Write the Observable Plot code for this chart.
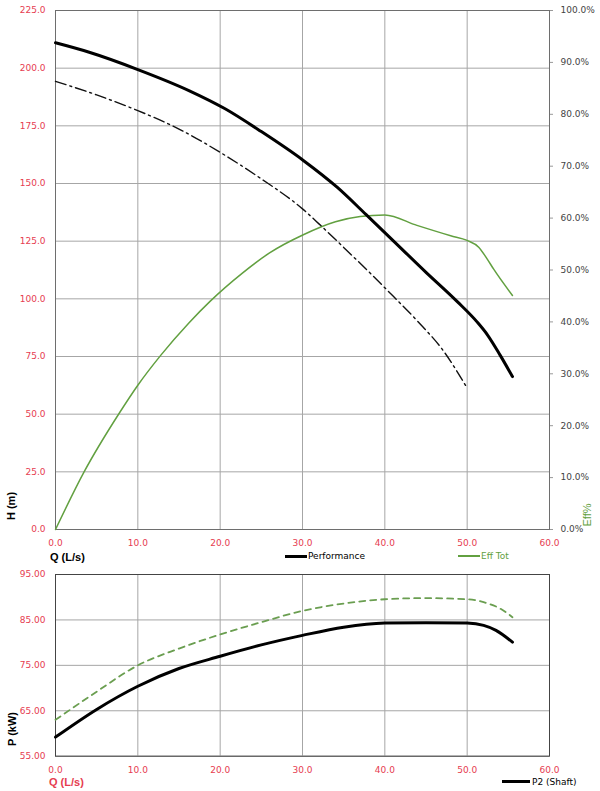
<!DOCTYPE html>
<html>
<head>
<meta charset="utf-8">
<script src="https://cdn.jsdelivr.net/npm/d3@7"></script>
<script src="https://cdn.jsdelivr.net/npm/@observablehq/plot@0.6"></script>
<style>
  html, body { margin: 0; padding: 0; background: #fff; }
  #wrap { position: relative; width: 600px; height: 791px; overflow: hidden; font-family: "DejaVu Sans", sans-serif; }
  .abs { position: absolute; white-space: nowrap; line-height: 1; }
  .lbl { font-family: "Liberation Sans", Arial, sans-serif; font-weight: bold; font-size: 11px; }
  .rot { transform: translate(-50%, -50%) rotate(-90deg); }
  .leg { font-size: 9px; transform: translateY(-50%); }
  .swatch { position: absolute; }
</style>
</head>
<body>
<div id="wrap">
  <div id="top" class="abs" style="left:0;top:0"></div>
  <div id="bottom" class="abs" style="left:0;top:562px"></div>

  <div class="abs lbl rot" style="left:10.5px;top:506px;color:#000">H (m)</div>
  <div class="abs lbl" style="left:50px;top:557px;transform:translateY(-50%);color:#000">Q (L/s)</div>
  <div class="abs rot" style="left:586.5px;top:515px;color:#5f9e3c;font-family:'Liberation Sans',Arial,sans-serif;font-size:11px">Eff%</div>

  <div class="swatch" style="left:285px;top:554.5px;width:22px;height:3px;background:#000"></div>
  <div class="abs leg" style="left:308px;top:556px;color:#000">Performance</div>
  <div class="swatch" style="left:458px;top:555px;width:22px;height:1.5px;background:#62a040"></div>
  <div class="abs leg" style="left:481px;top:556px;color:#62a040">Eff Tot</div>

  <div class="abs lbl rot" style="left:12px;top:729px;color:#000">P (kW)</div>
  <div class="abs lbl" style="left:49px;top:782px;transform:translateY(-50%);color:#e63c50">Q (L/s)</div>
  <div class="swatch" style="left:502px;top:780.2px;width:28px;height:3px;background:#000"></div>
  <div class="abs leg" style="left:532px;top:781.5px;color:#000">P2 (Shaft)</div>
</div>
<script>
// ---- Data ----
// Top chart: Head curve "Performance" (Q in L/s, H in m)
const perfQ = [0, 4, 10, 16.2, 20.6, 25, 30.1, 34.2, 37.7, 40.5, 45, 48.8, 51.2, 52.5, 54, 55.5];
const perfH = [211, 207, 199.4, 190.3, 182.4, 172.5, 160, 148.4, 136.6, 127, 111.5, 98.8, 90, 84.2, 75.6, 66.3];

// Top chart: unlabeled dash-dot curve (H axis)
const dashQ = [0, 5, 10, 15, 20, 25, 30, 32, 35, 38, 41, 44, 47, 50];
const dashH = [194.3, 188.4, 181.6, 173.6, 163.5, 152, 139, 132.5, 122.3, 111.9, 101.2, 90.2, 78, 61.3];

// Top chart: "Eff Tot" (percent, right axis)
const effQ = [0, 3.44, 7.7, 10, 12.75, 16.2, 18.8, 22.7, 26, 30.1, 34, 37, 40, 43.9, 48, 50, 51.4, 52.4, 53.2, 55.5];
const effPct = [0, 11, 22.3, 27.8, 33.5, 39.8, 44, 49.4, 53.3, 56.8, 59.3, 60.3, 60.6, 58.6, 56.6, 55.7, 54.4, 52.2, 50.2, 45.1];

// Bottom chart: "P2 (Shaft)" power (kW)
const p2Q = [0, 5, 10, 15, 20, 25, 30, 35, 40, 45, 50, 52, 53.5, 55.5];
const p2kW = [59.2, 65.3, 70.4, 74.3, 77.0, 79.5, 81.6, 83.4, 84.3, 84.4, 84.3, 83.8, 82.7, 80.1];

// Bottom chart: unlabeled dashed green power curve (kW)
const p1Q = [0, 5, 10, 15, 20, 25, 30, 35, 40, 45, 50, 52, 54, 55.5];
const p1kW = [63.0, 69.2, 75.0, 78.7, 81.8, 84.5, 87.0, 88.6, 89.55, 89.8, 89.55, 88.9, 87.5, 85.6];

// Tick values
const qTicks = [0, 10, 20, 30, 40, 50, 60];
const hTicks = [0, 25, 50, 75, 100, 125, 150, 175, 200, 225];
const effTicks = [0, 10, 20, 30, 40, 50, 60, 70, 80, 90, 100];
const pTicks = [55, 65, 75, 85, 95];

// ---- Build ----
const red = "#e63c50";
const green = "#62a040";
const gridColor = "#a6a6a6";
const frameColor = "#6e6e6e";
const effScale = 225 / 100; // 100% on the right axis lines up with 225 m

const zip = (a, b) => a.map((v, i) => ({x: v, y: b[i]}));
const perf = zip(perfQ, perfH);
const dash = zip(dashQ, dashH);
const eff = zip(effQ, effPct);
const p2 = zip(p2Q, p2kW);
const p1 = zip(p1Q, p1kW);

const topPlot = Plot.plot({
  width: 600,
  height: 548,
  marginLeft: 55,
  marginRight: 51,
  marginTop: 10,
  marginBottom: 19,
  style: {fontFamily: "DejaVu Sans, sans-serif", fontSize: "9px", background: "white", overflow: "visible"},
  x: {domain: [0, 60], label: null},
  y: {domain: [0, 225], label: null},
  marks: [
    Plot.gridX(qTicks, {stroke: gridColor, strokeOpacity: 1}),
    Plot.gridY(hTicks, {stroke: gridColor, strokeOpacity: 1}),
    Plot.frame({stroke: frameColor}),
    Plot.axisX(qTicks, {tickSize: 0, tickPadding: 10.5, tickFormat: d => d.toFixed(1), fill: red, label: null}),
    Plot.axisY(hTicks, {anchor: "left", tickSize: 0, tickPadding: 10, tickFormat: d => d.toFixed(1), fill: red, label: null}),
    Plot.axisY(effTicks.map(e => e * effScale), {anchor: "right", tickSize: 3, tickPadding: 8, stroke: "#999", fill: "#444",
      tickFormat: d => (d / effScale).toFixed(1) + "%", label: null}),
    Plot.line(eff, {x: "x", y: d => d.y * effScale, stroke: green, strokeWidth: 1.5, curve: "monotone-x"}),
    Plot.line(dash, {x: "x", y: "y", stroke: "#111", strokeWidth: 1.4, strokeDasharray: "11,4,2,4", curve: "monotone-x"}),
    Plot.line(perf, {x: "x", y: "y", stroke: "#000", strokeWidth: 3, curve: "monotone-x"})
  ]
});
document.getElementById("top").appendChild(topPlot);

const bottomPlot = Plot.plot({
  width: 600,
  height: 216,
  marginLeft: 55,
  marginRight: 51,
  marginTop: 12,
  marginBottom: 22.3,
  style: {fontFamily: "DejaVu Sans, sans-serif", fontSize: "9px", background: "white", overflow: "visible"},
  x: {domain: [0, 60], label: null},
  y: {domain: [55, 95], label: null},
  marks: [
    Plot.gridX(qTicks, {stroke: gridColor, strokeOpacity: 1}),
    Plot.gridY(pTicks, {stroke: gridColor, strokeOpacity: 1}),
    Plot.frame({stroke: "#444"}),
    Plot.axisX(qTicks, {tickSize: 0, tickPadding: 10, tickFormat: d => d.toFixed(1), fill: red, label: null}),
    Plot.axisY(pTicks, {anchor: "left", tickSize: 0, tickPadding: 10, tickFormat: d => d.toFixed(2), fill: red, label: null}),
    Plot.line(p1, {x: "x", y: "y", stroke: "#6a9e50", strokeWidth: 1.8, strokeDasharray: "6,5", curve: "monotone-x"}),
    Plot.line(p2, {x: "x", y: "y", stroke: "#000", strokeWidth: 3, curve: "monotone-x"})
  ]
});
document.getElementById("bottom").appendChild(bottomPlot);
</script>
</body>
</html>
